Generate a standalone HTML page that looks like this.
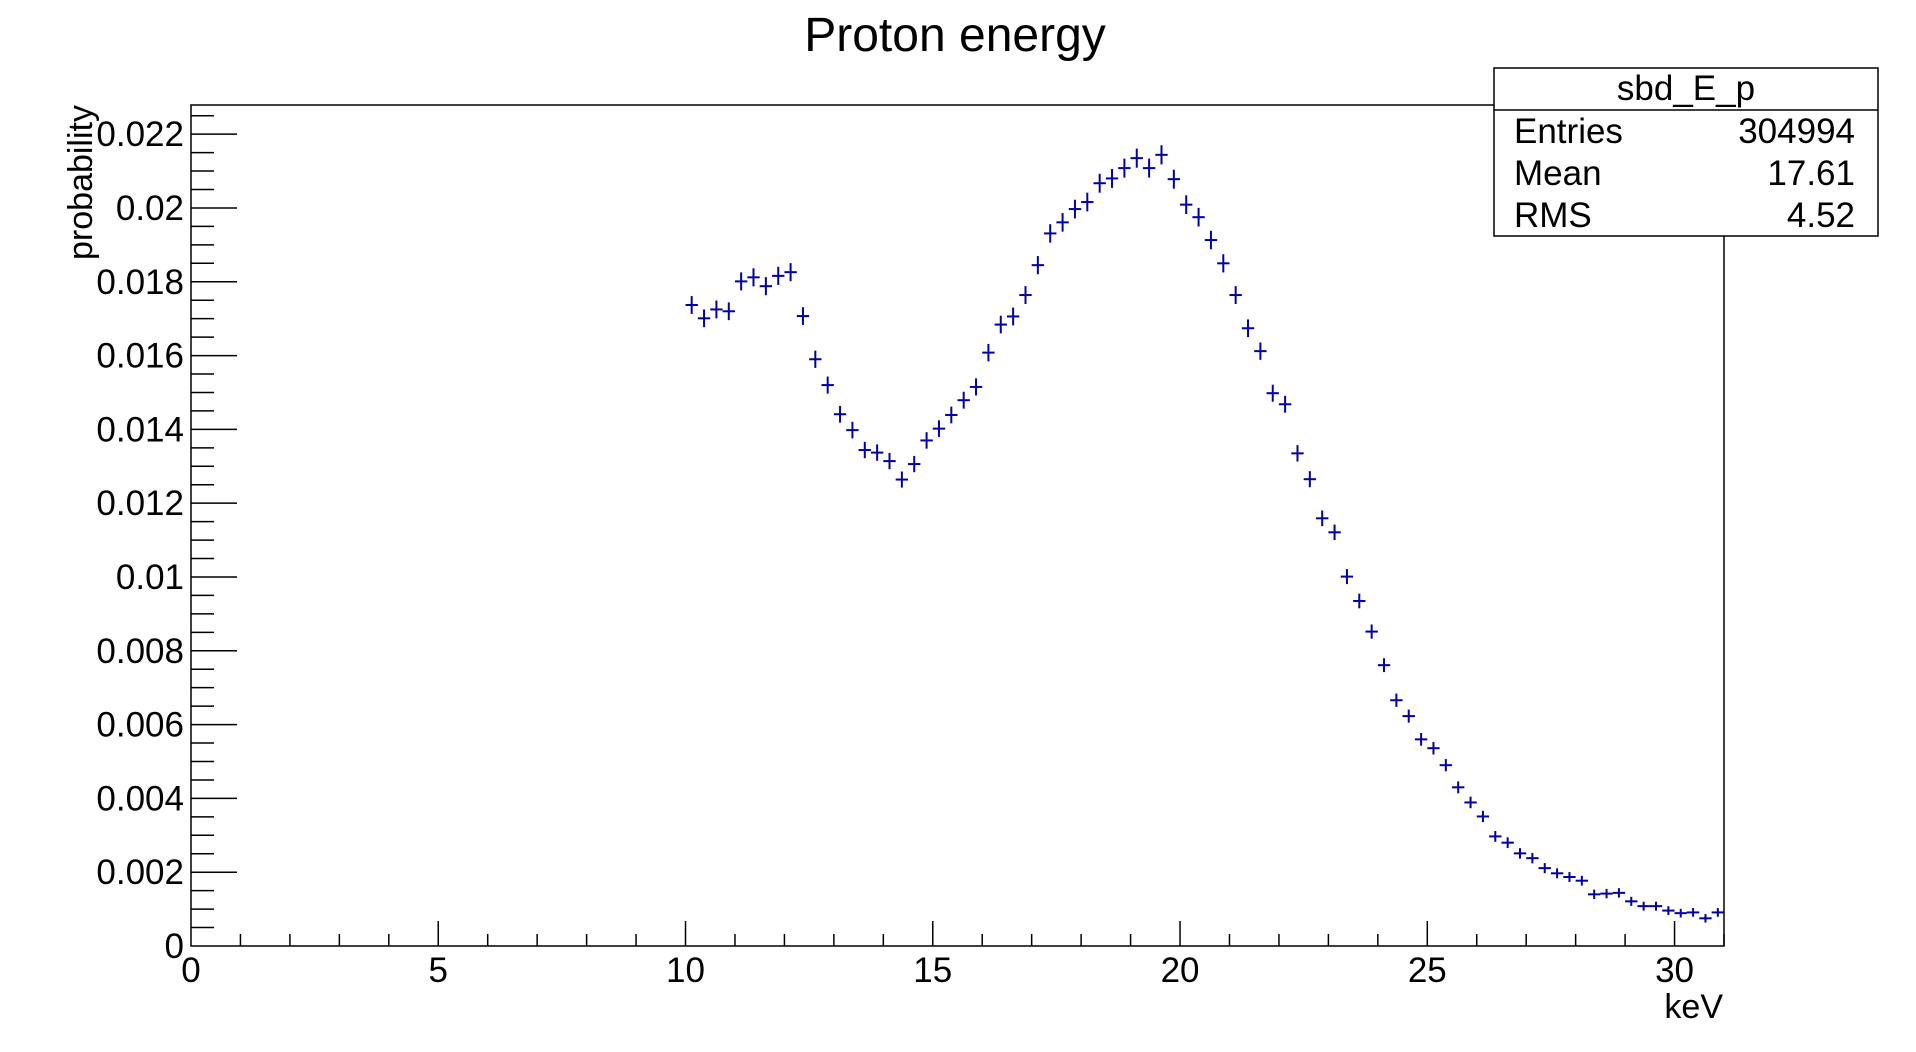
<!DOCTYPE html>
<html><head><meta charset="utf-8"><style>
html,body{margin:0;padding:0;background:#fff;}
svg{display:block;font-family:"Liberation Sans",Arial,sans-serif;}
</style></head><body>
<svg id="chart" width="1916" height="1052" viewBox="0 0 1916 1052">
<text x="955" y="51" font-size="48" text-anchor="middle">Proton energy</text>
<g id="axes"></g>
<g id="marks"></g>
<text transform="translate(92,105) rotate(-90)" font-size="34" text-anchor="end">probability</text>
<text x="1723" y="1018" font-size="34" text-anchor="end">keV</text>
<g>
<rect x="1494" y="68" width="384" height="168" fill="#fff" stroke="#000" stroke-width="1.5"/>
<line x1="1494" y1="110" x2="1878" y2="110" stroke="#000" stroke-width="1.5"/>
<text x="1686" y="100" font-size="35" text-anchor="middle">sbd_E_p</text>
<text x="1514" y="143" font-size="35">Entries</text>
<text x="1855" y="143" font-size="35" text-anchor="end">304994</text>
<text x="1514" y="185" font-size="35">Mean</text>
<text x="1855" y="185" font-size="35" text-anchor="end">17.61</text>
<text x="1514" y="227" font-size="35">RMS</text>
<text x="1855" y="227" font-size="35" text-anchor="end">4.52</text>
</g>
</svg>
<script>
const binStart = 10;
const binWidth = 0.25;
const values = [0.01737,0.01701,0.01725,0.01720,0.01801,0.01812,0.01788,0.01816,0.01826,0.01707,
0.01590,0.01520,0.01441,0.01398,0.01344,0.01337,0.01314,0.01264,0.01306,0.01370,
0.01402,0.01439,0.01479,0.01515,0.01608,0.01684,0.01706,0.01764,0.01845,0.01931,
0.01961,0.01997,0.02016,0.02067,0.02080,0.02108,0.02135,0.02108,0.02144,0.02078,
0.02009,0.01975,0.01913,0.01850,0.01764,0.01674,0.01612,0.01498,0.01468,0.01335,
0.01265,0.01159,0.01121,0.01001,0.00935,0.00852,0.00761,0.00666,0.00623,0.00560,
0.00536,0.00490,0.00430,0.00389,0.00351,0.00297,0.00280,0.00251,0.00238,0.00211,
0.00197,0.00187,0.00177,0.00140,0.00142,0.00144,0.00121,0.00108,0.00108,0.00096,
0.00089,0.00091,0.00075,0.00091];
const xTickLabels = ["0","5","10","15","20","25","30"];
const yTickLabels = ["0","0.002","0.004","0.006","0.008","0.01","0.012","0.014","0.016","0.018","0.02","0.022"];
const xMin = 0, xMax = 31, yMin = 0, yMax = 0.02279;
const L = 191, R = 1724, T = 105, B = 946;
const NS = "http://www.w3.org/2000/svg";
function xs(v){ return L + (v - xMin) / (xMax - xMin) * (R - L); }
function ys(v){ return B - (v - yMin) / (yMax - yMin) * (B - T); }
function mk(tag, attrs, parent){ const e = document.createElementNS(NS, tag); for (const k in attrs) e.setAttribute(k, attrs[k]); parent.appendChild(e); return e; }
const axes = document.getElementById('axes');
const frame = mk('rect', {x:L, y:T, width:R-L, height:B-T, fill:'none', stroke:'#000', 'stroke-width':1.5}, axes);


for (let i = 1; i <= 31; i++) {
  const major = i % 5 === 0;
  const t = mk('line', {x1:xs(i), x2:xs(i), y1:B, y2:B-(major?25:12), stroke:'#000', 'stroke-width':1.5}, axes);
  
  
}
xTickLabels.forEach(function(s){
  const tx = mk('text', {x:xs(parseFloat(s)), y:982, 'font-size':35, 'text-anchor':'middle'}, axes);
  tx.textContent = s;
  
  
});
for (let i = 1; i <= 45; i++) {
  const v = i * 0.0005;
  if (v > yMax) break;
  const major = i % 4 === 0;
  const t = mk('line', {x1:L, x2:L+(major?46:23), y1:ys(v), y2:ys(v), stroke:'#000', 'stroke-width':1.5}, axes);
  
  
}
yTickLabels.forEach(function(s){
  const tx = mk('text', {x:184, y:ys(parseFloat(s))+12, 'font-size':35, 'text-anchor':'end'}, axes);
  tx.textContent = s;
  
  
});
const marks = document.getElementById('marks');
values.forEach(function(v, i){
  const c = binStart + binWidth * (i + 0.5);
  const cx = xs(c), cy = ys(v);
  const hw = (xs(binWidth) - xs(0)) / 2;
  const hh = 3 + 6.5 * Math.sqrt(v / 0.021);
  const g = mk('g', {stroke:'#0000a0', 'stroke-width':2}, marks);
  
  
  mk('line', {x1:cx-hw, x2:cx+hw, y1:cy, y2:cy}, g);
  mk('line', {x1:cx, x2:cx, y1:cy-hh, y2:cy+hh}, g);
});
</script>
</body></html>
